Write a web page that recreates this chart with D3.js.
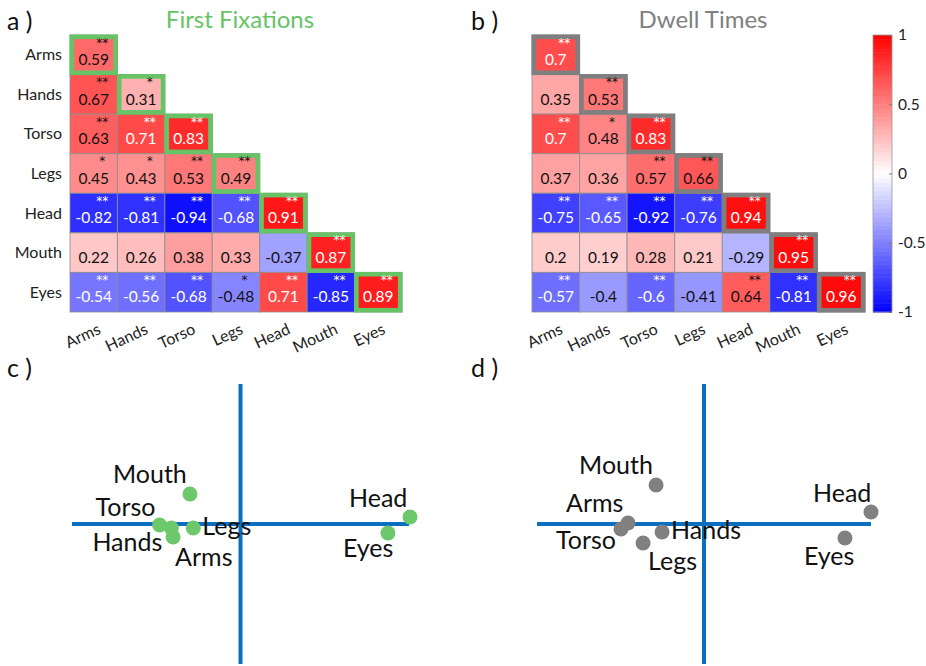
<!DOCTYPE html>
<html><head><meta charset="utf-8">
<script src="https://cdn.jsdelivr.net/npm/d3@7"></script>
<style>
html,body{margin:0;padding:0;background:#fff;}
svg{display:block;font-family:Lato,"Open Sans",sans-serif;}
</style></head>
<body>
<svg id="chart" width="926" height="666"></svg>
<script>
// ---------- DATA ----------
const categories = ["Arms","Hands","Torso","Legs","Head","Mouth","Eyes"];

// lower-triangle correlation values (row i, columns 0..i)
const fixValues = [
  [0.59],
  [0.67, 0.31],
  [0.63, 0.71, 0.83],
  [0.45, 0.43, 0.53, 0.49],
  [-0.82, -0.81, -0.94, -0.68, 0.91],
  [0.22, 0.26, 0.38, 0.33, -0.37, 0.87],
  [-0.54, -0.56, -0.68, -0.48, 0.71, -0.85, 0.89]
];
const fixStars = [
  ["**"],
  ["**","*"],
  ["**","**","**"],
  ["*","*","**","**"],
  ["**","**","**","**","**"],
  ["","","","","","**"],
  ["**","**","**","*","**","**","**"]
];
const dwellValues = [
  [0.7],
  [0.35, 0.53],
  [0.7, 0.48, 0.83],
  [0.37, 0.36, 0.57, 0.66],
  [-0.75, -0.65, -0.92, -0.76, 0.94],
  [0.2, 0.19, 0.28, 0.21, -0.29, 0.95],
  [-0.57, -0.4, -0.6, -0.41, 0.64, -0.81, 0.96]
];
const dwellStars = [
  ["**"],
  ["","**"],
  ["**","*","**"],
  ["","","**","**"],
  ["**","**","**","**","**"],
  ["","","","","","**"],
  ["**","","**","","**","**","**"]
];
const colorTicks = [1, 0.5, 0, -0.5, -1];

// 2-D projections (order = categories)
const fixPC1 = [-0.40, -0.41, -0.48, -0.28, 1.006, -0.30, 0.875];
const fixPC2 = [-0.093, -0.029, -0.007, -0.029, 0.05, 0.214, -0.064];
const dwellPC1 = [-0.455, -0.251, -0.497, -0.365, 1.0, -0.287, 0.844];
const dwellPC2 = [0.007, -0.057, -0.036, -0.136, 0.086, 0.279, -0.10];

// ---------- LAYOUT ----------
const svg = d3.select("#chart");
const GREEN = "#66c466", GREY = "#7f7f7f", AXBLUE = "#0b6fc0";
const color = d3.scaleLinear().domain([-1, 0, 1]).range(["#0000ff", "#ffffff", "#ff0000"]);
const whiteText = v => v >= 0.7 || v <= -0.5;

function heatmap(opt) {
  const x = d3.scaleBand().domain(categories).range(opt.xr);
  const y = d3.scaleBand().domain(categories).range(opt.yr);
  const g = svg.append("g");
  const cells = [];
  opt.values.forEach((row, i) => row.forEach((v, j) => cells.push({i, j, v, s: opt.stars[i][j]})));
  const bw = x.bandwidth(), bh = y.bandwidth();

  g.selectAll("rect.cell").data(cells).join("rect")
    .attr("x", d => x(categories[d.j])).attr("y", d => y(categories[d.i]))
    .attr("width", bw).attr("height", bh)
    .attr("fill", d => color(d.v))
    .attr("stroke", "#8c8c8c").attr("stroke-width", 1).attr("stroke-opacity", 0.8);

  // diagonal highlight
  const diag = cells.filter(d => d.i === d.j);
  g.selectAll("rect.diag").data(diag).join("rect")
    .attr("x", d => x(categories[d.j]) + 1.8).attr("y", d => y(categories[d.i]) + 1.8)
    .attr("width", bw - 3.6).attr("height", bh - 3.6)
    .attr("fill", "none").attr("stroke", opt.border).attr("stroke-width", 4.6);

  // significance marks (superscript)
  g.selectAll("text.star").data(cells.filter(d => d.s)).join("text")
    .attr("x", d => x(categories[d.j]) + bw * 0.68)
    .attr("y", d => y(categories[d.i]) + 11.6)
    .attr("text-anchor", "middle")
    .attr("font-family", "'DejaVu Sans', sans-serif")
    .attr("font-size", 12)
    .attr("fill", d => whiteText(d.v) ? "#ffffff" : "#111111")
    .text(d => d.s);
  // values
  g.selectAll("text.val").data(cells).join("text")
    .attr("x", d => x(categories[d.j]) + bw / 2)
    .attr("y", d => y(categories[d.i]) + 30)
    .attr("text-anchor", "middle")
    .attr("font-size", 15.5)
    .attr("fill", d => whiteText(d.v) ? "#ffffff" : "#111111")
    .text(d => String(d.v));

  // x labels rotated
  g.selectAll("text.xl").data(categories).join("text")
    .attr("transform", d => `translate(${x(d) + bw / 2 + 8},${opt.yr[1] + 21}) rotate(-25)`)
    .attr("text-anchor", "end")
    .attr("font-size", 16).attr("fill", "#222")
    .text(d => d);

  if (opt.ylabels) {
    g.selectAll("text.yl").data(categories).join("text")
      .attr("x", opt.xr[0] - 8).attr("y", d => y(d) + bh / 2 + 5.5)
      .attr("text-anchor", "end")
      .attr("font-size", 16).attr("fill", "#222")
      .text(d => d);
  }

  svg.append("text").attr("x", opt.titleX).attr("y", 28)
    .attr("text-anchor", "middle").attr("font-size", 24)
    .attr("fill", opt.titleColor).text(opt.title);
}

heatmap({values: fixValues, stars: fixStars, xr: [70, 402], yr: [35, 312],
  border: GREEN, ylabels: true, title: "First Fixations", titleX: 240, titleColor: GREEN});
heatmap({values: dwellValues, stars: dwellStars, xr: [532, 865], yr: [35, 312],
  border: GREY, ylabels: false, title: "Dwell Times", titleX: 703, titleColor: "#808080"});

// ---------- COLORBAR ----------
const cb = {x: 873, w: 19, top: 35, bottom: 312};
const cy = d3.scaleLinear().domain([-1, 1]).range([cb.bottom, cb.top]);
const nBands = 64;
const bands = d3.range(nBands).map(k => -1 + (k + 0.5) * 2 / nBands);
svg.append("g").selectAll("rect").data(bands).join("rect")
  .attr("x", cb.x).attr("width", cb.w)
  .attr("y", d => cy(d + 1 / nBands))
  .attr("height", cy(-1) - cy(-1 + 2 / nBands) + 0.5)
  .attr("fill", d => color(d));
svg.append("rect").attr("x", cb.x).attr("y", cb.top).attr("width", cb.w)
  .attr("height", cb.bottom - cb.top).attr("fill", "none")
  .attr("stroke", "#9a9a9a").attr("stroke-width", 0.8);
const cbAxis = svg.append("g").attr("transform", `translate(${cb.x + cb.w},0)`)
  .call(d3.axisRight(cy).tickValues(colorTicks).tickSizeInner(-3).tickSizeOuter(0)
    .tickPadding(6).tickFormat(d => String(d)));
cbAxis.select(".domain").remove();
cbAxis.selectAll(".tick line").attr("stroke", "#777");
cbAxis.selectAll("text").attr("font-size", 15.5).attr("fill", "#222")
  .attr("font-family", "Lato, sans-serif");

// ---------- SCATTER PANELS ----------
function scatter(opt) {
  const x = d3.scaleLinear().domain([-1, 1]).range(opt.xr);
  const y = d3.scaleLinear().domain([-1, 1]).range([664, 384]);
  const g = svg.append("g");
  g.append("line").attr("x1", x(-1)).attr("x2", x(1)).attr("y1", y(0)).attr("y2", y(0))
    .attr("stroke", AXBLUE).attr("stroke-width", 4);
  g.append("line").attr("x1", x(0)).attr("x2", x(0)).attr("y1", y(1)).attr("y2", y(-1))
    .attr("stroke", AXBLUE).attr("stroke-width", 4);
  const pts = categories.map((c, k) => ({c, px: opt.px[k], py: opt.py[k], off: opt.offsets[c]}));
  g.selectAll("circle").data(pts).join("circle")
    .attr("cx", d => x(d.px)).attr("cy", d => y(d.py)).attr("r", 7.5)
    .attr("fill", opt.dot);
  g.selectAll("text").data(pts).join("text")
    .attr("x", d => x(d.px) + d.off[0]).attr("y", d => y(d.py) + d.off[1])
    .attr("font-size", 25).attr("fill", "#111")
    .text(d => d.c);
}

scatter({xr: [72, 409], px: fixPC1, py: fixPC2, dot: "#6cc86a",
  offsets: {Arms: [2, 28.5], Hands: [-79, 23], Torso: [-64, -9], Legs: [9, 7],
            Head: [-61, -10], Mouth: [-77, -11], Eyes: [-45, 24]}});
scatter({xr: [537, 871], px: dwellPC1, py: dwellPC2, dot: "#808080",
  offsets: {Arms: [-62, -11], Hands: [9, 7.5], Torso: [-65, 20], Legs: [5, 27],
            Head: [-58, -10], Mouth: [-77, -11], Eyes: [-41, 27]}});

// ---------- PANEL LETTERS ----------
const letters = [["a )", 7, 30], ["b )", 471, 30], ["c )", 7, 377], ["d )", 471, 377]];
svg.selectAll("text.letter").data(letters).join("text")
  .attr("x", d => d[1]).attr("y", d => d[2])
  .attr("font-size", 25).attr("fill", "#111").text(d => d[0]);
</script>
</body></html>
